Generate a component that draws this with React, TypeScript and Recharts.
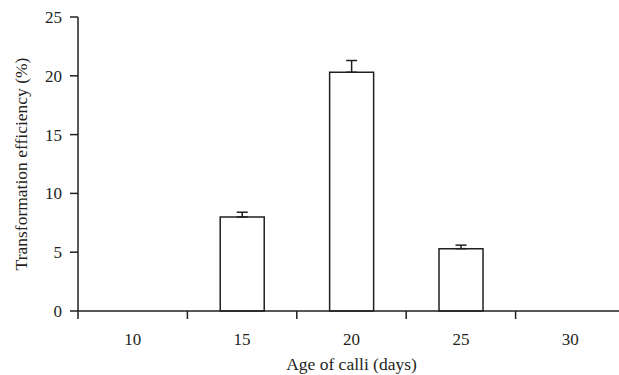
import { BarChart, Bar, XAxis, YAxis, ErrorBar } from 'recharts';

const ages = ['10', '15', '20', '25', '30'];
const efficiency = [0, 8.0, 20.3, 5.3, 0];
const errorUpper = [0, 0.4, 1.0, 0.3, 0];
const yTicks = [0, 5, 10, 15, 20, 25];

const data = ages.map((age, i) => ({
  age,
  value: efficiency[i],
  err: errorUpper[i] > 0 ? [0, errorUpper[i]] : null,
}));

const INK = '#231f20';

// category ticks sit between the bands, labels in the middle
function XTick(props: any) {
  const { x, y, payload, index, visibleTicksCount } = props;
  const half = payload.offset ?? 54.7;
  const top = y - 14 - 8;
  const bottom = y - 14;
  return (
    <g>
      <line x1={x - half} y1={top} x2={x - half} y2={bottom} stroke={INK} strokeWidth={1.5} />
      {index === visibleTicksCount - 1 && (
        <line x1={x + half} y1={top} x2={x + half} y2={bottom} stroke={INK} strokeWidth={1.5} />
      )}
      <text x={x} y={y} dy="0.71em" textAnchor="middle" fill={INK} fontSize={17}>
        {payload.value}
      </text>
    </g>
  );
}

function YLabel(props: any) {
  const { viewBox } = props;
  const cx = viewBox.x + 20.5;
  const cy = viewBox.y + viewBox.height / 2;
  return (
    <text
      x={cx}
      y={cy}
      transform={`rotate(-90 ${cx} ${cy})`}
      textAnchor="middle"
      dominantBaseline="central"
      fill={INK}
      fontSize={17.5}
    >
      Transformation efficiency (%)
    </text>
  );
}

export default function App() {
  return (
    <div
      style={{
        position: 'absolute',
        left: 0,
        top: 0,
        width: 619,
        height: 375,
        overflow: 'hidden',
        background: '#fff',
        fontFamily: '"Liberation Serif", "Times New Roman", serif',
      }}
    >
      <BarChart
        width={640}
        height={375}
        data={data}
        margin={{ top: 17, right: 15, bottom: 0, left: 0 }}
        barCategoryGap="30%"
      >
        <XAxis
          dataKey="age"
          height={64}
          axisLine={{ stroke: INK, strokeWidth: 1.5 }}
          tickLine={{ stroke: 'none' }}
          tickSize={8}
          tickMargin={14}
          tick={<XTick />}
          interval={0}
          label={{ value: 'Age of calli (days)', position: 'insideBottom', offset: 5, fill: INK, fontSize: 17.5 }}
        />
        <YAxis
          width={78}
          domain={[0, 25]}
          ticks={yTicks}
          interval={0}
          axisLine={{ stroke: INK, strokeWidth: 1.5 }}
          tickLine={{ stroke: INK, strokeWidth: 1.5 }}
          tickSize={8}
          tickMargin={8}
          tick={{ fill: INK, fontSize: 17 }}
          label={{ content: <YLabel /> }}
        />
        <Bar dataKey="value" fill="#fff" stroke={INK} strokeWidth={1.5} isAnimationActive={false}>
          <ErrorBar dataKey="err" direction="y" width={5.5} stroke={INK} strokeWidth={1.5} />
        </Bar>
      </BarChart>
    </div>
  );
}
